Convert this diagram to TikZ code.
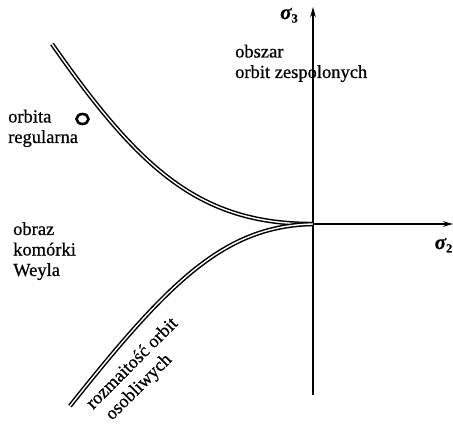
\documentclass[tikz,border=0pt]{standalone}
\usepackage{fontspec}
\setmainfont{Liberation Serif}[FakeBold=0.6]
\usetikzlibrary{arrows.meta}
\newcommand{\sigsub}[1]{{\bfseries\itshape σ}\raisebox{-3.5pt}{\bfseries\fontsize{12.5}{12.5}\selectfont #1}}
\begin{document}
\begin{tikzpicture}[x=1pt,y=-1pt,
  lbl/.style={font=\fontsize{18.5}{20.5}\selectfont, inner sep=0pt, anchor=base west, align=left},
  sym/.style={font=\fontsize{21}{22}\selectfont, inner sep=0pt, anchor=base west},
  axis/.style={line width=1.6pt, -{Stealth[length=10pt,width=5.5pt]}},
  orb/.style={draw=black, line width=1.5pt, double=white, double distance=1.4pt}]
\useasboundingbox (0,0) rectangle (453,425);
\coordinate (O) at (313,224);
\coordinate (ybot) at (313,395);
\coordinate (ytop) at (313,7);
\coordinate (xend) at (453,224);
\coordinate (u0) at (52,44);
\coordinate (l0) at (70,406);
\draw[axis] (ybot) -- (ytop);
\draw[axis] (O) -- (xend);
\draw[orb] (u0) .. controls (140,170) and (200,224) .. (O);
\draw[orb] (l0) .. controls (170,280) and (225,226) .. (O);
\draw[line width=2.6pt] (82.5,119) ellipse (6 and 5);
\node[sym] (s3) at (280,19) {\sigsub{3}};
\node[sym] (s2) at (434.5,249) {\sigsub{2}};
\node[lbl] (zesp) at (235,78) {obszar\\orbit zespolonych};
\node[lbl] (reg) at (8,143) {orbita\\regularna};
\node[lbl] (weyl) at (13,276) {obraz\\komórki\\Weyla};
\node[lbl, rotate=45] (roz) at (93,410) {rozmaitość orbit};
\node[lbl, rotate=45] (osob) at (112,421) {osobliwych};
\end{tikzpicture}
\end{document}
